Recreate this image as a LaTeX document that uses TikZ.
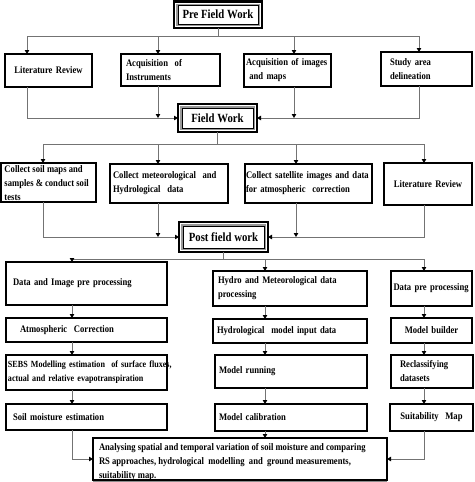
\documentclass[tikz,border=0pt]{standalone}
\usepackage{fontspec}
\newfontfamily\tfont{Liberation Serif}[FakeStretch=0.86]
\usetikzlibrary{arrows.meta}
\newcommand\titledeco[1]{%
  \draw[black!40, line width=1.6pt] ([xshift=2.9pt,yshift=-2.9pt]#1.north west) rectangle ([xshift=-2.9pt,yshift=2.9pt]#1.south east);
  \draw[black, line width=0.6pt] ([xshift=4.1pt,yshift=-4.1pt]#1.north west) rectangle ([xshift=-4.1pt,yshift=4.1pt]#1.south east);}
\tikzset{
  box/.style={draw=black, line width=1.6pt, inner sep=0pt, outer sep=0pt, align=left,
    font=\tfont\bfseries\fontsize{10}{14}\selectfont,
    execute at begin node={\hyphenpenalty=10000\exhyphenpenalty=10000}},
  thickbox/.style={box, line width=2.6pt},
  titlebox/.style={draw=black, line width=2.6pt, inner sep=0pt, outer sep=0pt,
    font=\tfont\bfseries\fontsize{12.5}{14}\selectfont},
  link/.style={draw=black!55, line width=0.9pt},
  arr/.style={link, -{Triangle[length=4pt,width=4.5pt,color=black]}},
}
\begin{document}
\begin{tikzpicture}[x=1pt,y=-1pt]
\useasboundingbox (0,0) rectangle (474,482);
% column coordinates
\coordinate (k1) at (27,0);  \coordinate (k2) at (158,0);
\coordinate (k3) at (294,0); \coordinate (k4) at (419,0);
\coordinate (m1) at (43,0);  \coordinate (m2) at (158,0);
\coordinate (m3) at (296,0); \coordinate (m4) at (424,0);
\coordinate (n1) at (72,0);  \coordinate (n2) at (265,0);
\coordinate (n3) at (424,0);

% titles
\node[titlebox, minimum width=88pt, minimum height=26.5pt] (pre) at (218,14.75) {Pre Field Work};
\node[titlebox, minimum width=79pt, minimum height=28pt] (field) at (217.5,118) {Field Work};
\node[titlebox, minimum width=89pt, minimum height=30pt] (post) at (223.5,237) {Post field work};
\titledeco{pre}\titledeco{field}\titledeco{post}

% row 1
\node[box, minimum width=87pt, minimum height=33pt, text width=75pt, align=center] (lit1) at (48.5,70.5) {Literature Review};
\node[box, minimum width=99pt, minimum height=32pt, text width=89pt] (inst) at (170.5,70) {Acquisition\ \ of\\Instruments};
\node[box, minimum width=87pt, minimum height=33pt, text width=83pt] (imgs) at (287.5,70.5) {Acquisition\ of images\\\ and maps};
\node[box, minimum width=91pt, minimum height=34pt, text width=73pt] (study) at (426.5,69) {Study area\\delineation};

% row 2
\node[box, minimum width=95pt, minimum height=39pt] (soil) at (48.5,182.5)
  {\parbox[c][39pt][t]{88pt}{\raggedright\vspace*{3pt}Collect soil maps and\\samples \& conduct\ soil\\tests}};
\node[box, minimum width=118pt, minimum height=39pt, text width=112pt] (met) at (169,183.5) {Collect meteorological\ \ and\\Hydrological\ \ data};
\node[box, minimum width=127pt, minimum height=39pt, text width=125pt] (sat) at (308.5,183.5) {Collect satellite images and data\\for atmospheric\ \ correction};
\node[thickbox, minimum width=88pt, minimum height=42pt, text width=80pt, align=center] (lit2) at (428,184) {Literature Review};

% left column
\node[box, minimum width=161pt, minimum height=43pt, text width=147pt] (dip) at (86.5,283.5) {Data and Image pre processing};
\node[box, minimum width=161pt, minimum height=24pt, text width=133pt] (atm) at (86.5,330) {Atmospheric\ \ Correction};
\node[box, minimum width=161pt, minimum height=35pt, text width=157pt, font=\tfont\bfseries\fontsize{9.4}{14}\selectfont] (sebs) at (86.5,372.5) {\mbox{SEBS Modelling estimation\ \ of surface fluxes,}\\actual and relative evapotranspiration};
\node[box, minimum width=161pt, minimum height=26pt, text width=147pt] (smest) at (86.5,417) {Soil moisture estimation};

% middle column
\node[box, minimum width=154pt, minimum height=35pt, text width=144pt] (hmd) at (290,288.5) {Hydro\ and\ Meteorological data\\processing};
\node[box, minimum width=154pt, minimum height=24pt, text width=146pt] (hmi) at (290,331) {Hydrological\ \ model\ input\ data};
\node[box, minimum width=152pt, minimum height=33pt, text width=144pt] (mrun) at (291,371.5) {Model running};
\node[box, minimum width=152pt, minimum height=27pt, text width=144pt] (mcal) at (291,417.5) {Model calibration};

% right column
\node[box, minimum width=81pt, minimum height=35pt, text width=76pt] (dpp) at (431.5,288.5) {\mbox{Data pre processing}};
\node[thickbox, minimum width=81pt, minimum height=25pt, text width=75pt, align=center] (mb) at (431.5,330.5) {Model builder};
\node[box, minimum width=82pt, minimum height=33pt, text width=64pt] (recl) at (432,371.5) {Reclassifying\\datasets};
\node[box, minimum width=83pt, minimum height=27pt, text width=77pt, align=center] (suit) at (431.5,417.5) {Suitability\ \ Map};

% bottom
\draw[black!45, line width=2pt] (93,481) -- (387,481);
\node[box, minimum width=294pt, minimum height=42pt] (ana) at (240,459)
  {\parbox[c][42pt][t]{282pt}{\raggedright\vspace*{5pt}Analysing\ spatial\ and\ temporal\ variation\ of soil moisture\ and\ comparing\\RS approaches,\ hydrological\ \ modelling\ \ and\ \ ground\ measurements,\\suitability map.}};

% connectors: pre field
\draw[arr] (pre.south) -- ++(0,8.5) -| (lit1.north -| k1);
\draw[arr] (pre.south) -- ++(0,8.5) -| (inst.north -| k2);
\draw[arr] (pre.south) -- ++(0,8.5) -| (imgs.north -| k3);
\draw[arr] (pre.south) -- ++(0,8.5) -| (study.north -| k4);
% to field work
\draw[arr] (lit1.south -| k1) |- (field.west);
\draw[arr] (inst.south -| k2) -- (k2 |- field.west);
\draw[arr] (imgs.south -| k3) -- (k3 |- field.west);
\draw[arr] (study.south -| k4) |- (field.east);
% field work
\draw[arr] (field.south) -- ++(0,12) -| (soil.north -| m1);
\draw[arr] (field.south) -- ++(0,12) -| (met.north -| m2);
\draw[arr] (field.south) -- ++(0,12) -| (sat.north -| m3);
\draw[arr] (field.south) -- ++(0,12) -| (lit2.north -| m4);
% to post field work
\draw[arr] (soil.south -| m1) |- (post.west);
\draw[arr] (met.south -| m2) -- (m2 |- post.west);
\draw[arr] (sat.south -| m3) -- (m3 |- post.west);
\draw[arr] (lit2.south -| m4) |- (post.east);
% post field work
\draw[arr] (post.south) -- ++(0,7) -| (dip.north -| n1);
\draw[arr] (post.south) -- ++(0,7) -| (hmd.north -| n2);
\draw[arr] (post.south) -- ++(0,7) -| (dpp.north -| n3);
% columns
\draw[arr] (dip.south -| n1) -- (atm.north -| n1);
\draw[arr] (atm.south -| n1) -- (sebs.north -| n1);
\draw[arr] (sebs.south -| n1) -- (smest.north -| n1);
\draw[arr] (hmd.south -| n2) -- (hmi.north -| n2);
\draw[arr] (hmi.south -| n2) -- (mrun.north -| n2);
\draw[arr] (mrun.south -| n2) -- (mcal.north -| n2);
\draw[arr] (dpp.south -| n3) -- (mb.north -| n3);
\draw[arr] (mb.south -| n3) -- (recl.north -| n3);
\draw[arr] (recl.south -| n3) -- (suit.north -| n3);
% to final box
\draw[arr] (smest.south -| n1) |- (ana.west);
\draw[arr] (mcal.south -| n2) -- (ana.north -| n2);
\draw[arr] (suit.south -| n3) |- (ana.east);
\end{tikzpicture}
\end{document}
